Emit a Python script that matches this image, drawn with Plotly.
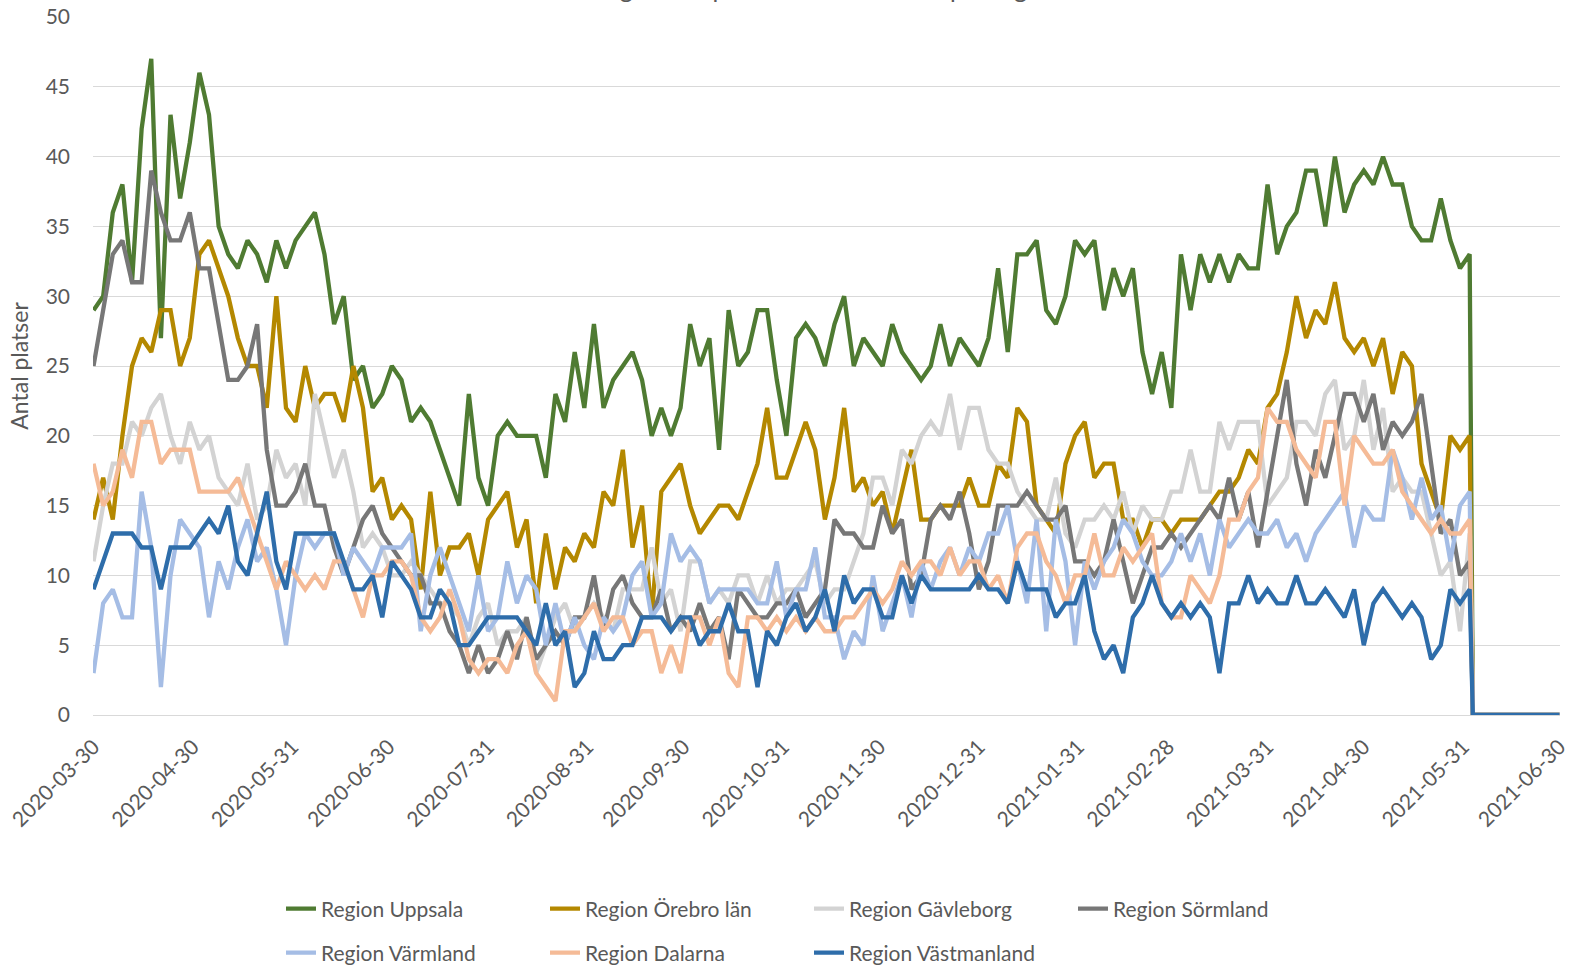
import pandas as pd
import plotly.graph_objects as go

# ---- data (one value every 3 days) ----
START_DATE = "2020-03-30"
STEP = "3D"
N_POINTS = 144
TAIL_DATES = ["2021-06-03", "2021-06-30"]
TAIL_VALUES = [0, 0]

uppsala = [29, 30, 36, 38, 31, 42, 47, 27, 43, 37, 41, 46,
           43, 35, 33, 32, 34, 33, 31, 34, 32, 34, 35, 36,
           33, 28, 30, 24, 25, 22, 23, 25, 24, 21, 22, 21,
           19, 17, 15, 23, 17, 15, 20, 21, 20, 20, 20, 17,
           23, 21, 26, 22, 28, 22, 24, 25, 26, 24, 20, 22,
           20, 22, 28, 25, 27, 19, 29, 25, 26, 29, 29, 24,
           20, 27, 28, 27, 25, 28, 30, 25, 27, 26, 25, 28,
           26, 25, 24, 25, 28, 25, 27, 26, 25, 27, 32, 26,
           33, 33, 34, 29, 28, 30, 34, 33, 34, 29, 32, 30,
           32, 26, 23, 26, 22, 33, 29, 33, 31, 33, 31, 33,
           32, 32, 38, 33, 35, 36, 39, 39, 35, 40, 36, 38,
           39, 38, 40, 38, 38, 35, 34, 34, 37, 34, 32, 33]

orebro = [14, 17, 14, 20, 25, 27, 26, 29, 29, 25, 27, 33,
          34, 32, 30, 27, 25, 25, 22, 30, 22, 21, 25, 22,
          23, 23, 21, 25, 22, 16, 17, 14, 15, 14, 9, 16,
          10, 12, 12, 13, 10, 14, 15, 16, 12, 14, 8, 13,
          9, 12, 11, 13, 12, 16, 15, 19, 12, 15, 7, 16,
          17, 18, 15, 13, 14, 15, 15, 14, 16, 18, 22, 17,
          17, 19, 21, 19, 14, 17, 22, 16, 17, 15, 16, 13,
          16, 19, 14, 14, 15, 15, 15, 17, 15, 15, 18, 17,
          22, 21, 15, 14, 13, 18, 20, 21, 17, 18, 18, 14,
          14, 12, 14, 14, 13, 14, 14, 14, 15, 16, 16, 17,
          19, 18, 22, 23, 26, 30, 27, 29, 28, 31, 27, 26,
          27, 25, 27, 23, 26, 25, 18, 16, 14, 20, 19, 20]

gavleborg = [11, 15, 18, 18, 21, 20, 22, 23, 20, 18, 21, 19,
             20, 17, 16, 15, 18, 14, 15, 19, 17, 18, 15, 23,
             20, 17, 19, 16, 12, 13, 12, 10, 10, 11, 10, 9,
             8, 8, 7, 5, 7, 8, 5, 6, 6, 7, 3, 5,
             7, 8, 6, 7, 8, 7, 6, 9, 9, 9, 12, 8,
             9, 6, 11, 11, 8, 9, 8, 10, 10, 8, 10, 8,
             9, 9, 10, 11, 8, 9, 9, 11, 13, 17, 17, 15,
             19, 18, 20, 21, 20, 23, 19, 22, 22, 19, 18, 18,
             16, 15, 14, 14, 17, 13, 12, 14, 14, 15, 14, 16,
             13, 15, 14, 14, 16, 16, 19, 16, 16, 21, 19, 21,
             21, 21, 15, 16, 17, 21, 21, 20, 23, 24, 19, 20,
             24, 19, 22, 16, 17, 16, 16, 13, 10, 11, 6, 13]

sormland = [25, 29, 33, 34, 31, 31, 39, 36, 34, 34, 36, 32,
            32, 28, 24, 24, 25, 28, 19, 15, 15, 16, 18, 15,
            15, 12, 10, 12, 14, 15, 13, 12, 11, 10, 10, 8,
            8, 6, 5, 3, 5, 3, 4, 6, 4, 7, 4, 5,
            6, 5, 7, 7, 10, 6, 9, 10, 8, 7, 7, 9,
            6, 7, 6, 8, 6, 7, 4, 9, 8, 7, 7, 8,
            8, 9, 7, 8, 9, 14, 13, 13, 12, 12, 15, 13,
            14, 9, 10, 14, 15, 14, 16, 13, 9, 11, 15, 15,
            15, 16, 15, 14, 14, 15, 11, 11, 10, 11, 14, 11,
            8, 10, 12, 12, 13, 12, 13, 14, 15, 14, 17, 14,
            16, 12, 16, 20, 24, 18, 15, 19, 17, 20, 23, 23,
            21, 23, 19, 21, 20, 21, 23, 18, 13, 14, 10, 11]

varmland = [3, 8, 9, 7, 7, 16, 12, 2, 10, 14, 13, 12,
            7, 11, 9, 12, 14, 11, 12, 9, 5, 10, 13, 12,
            13, 13, 10, 12, 11, 10, 12, 12, 12, 13, 6, 10,
            12, 10, 8, 6, 10, 6, 7, 11, 8, 10, 9, 5,
            8, 5, 7, 5, 4, 7, 6, 7, 10, 11, 7, 8,
            13, 11, 12, 11, 8, 9, 9, 9, 9, 8, 8, 11,
            7, 9, 9, 12, 7, 7, 4, 6, 5, 10, 6, 8,
            10, 7, 11, 9, 11, 12, 10, 12, 11, 13, 13, 15,
            11, 8, 14, 6, 14, 11, 5, 11, 9, 11, 12, 14,
            13, 11, 10, 10, 11, 13, 11, 13, 10, 14, 12, 13,
            14, 13, 13, 14, 12, 13, 11, 13, 14, 15, 16, 12,
            15, 14, 14, 19, 17, 14, 17, 14, 15, 11, 15, 16]

dalarna = [18, 15, 16, 19, 17, 21, 21, 18, 19, 19, 19, 16,
           16, 16, 16, 17, 15, 13, 11, 9, 11, 10, 9, 10,
           9, 11, 11, 9, 7, 10, 10, 11, 11, 10, 7, 6,
           7, 9, 7, 4, 3, 4, 4, 3, 5, 6, 3, 2,
           1, 6, 6, 7, 8, 6, 7, 7, 5, 6, 6, 3,
           5, 3, 7, 7, 5, 7, 3, 2, 7, 7, 6, 7,
           6, 7, 6, 7, 6, 6, 7, 7, 8, 9, 8, 9,
           11, 10, 11, 11, 10, 12, 10, 11, 11, 9, 10, 8,
           12, 13, 13, 11, 10, 8, 10, 10, 13, 10, 10, 12,
           11, 12, 13, 8, 7, 7, 10, 9, 8, 10, 14, 14,
           16, 17, 22, 21, 21, 19, 18, 17, 21, 21, 15, 20,
           19, 18, 18, 19, 16, 15, 14, 13, 14, 13, 13, 14]

vastmanland = [9, 11, 13, 13, 13, 12, 12, 9, 12, 12, 12, 13,
               14, 13, 15, 11, 10, 13, 16, 11, 9, 13, 13, 13,
               13, 13, 11, 9, 9, 10, 7, 11, 10, 9, 7, 7,
               9, 8, 5, 5, 6, 7, 7, 7, 7, 6, 5, 8,
               5, 6, 2, 3, 6, 4, 4, 5, 5, 7, 7, 7,
               6, 7, 7, 5, 6, 6, 8, 6, 6, 2, 6, 5,
               7, 8, 6, 7, 9, 6, 10, 8, 9, 9, 7, 7,
               10, 8, 10, 9, 9, 9, 9, 9, 10, 9, 9, 8,
               11, 9, 9, 9, 7, 8, 8, 10, 6, 4, 5, 3,
               7, 8, 10, 8, 7, 8, 7, 8, 7, 3, 8, 8,
               10, 8, 9, 8, 8, 10, 8, 8, 9, 8, 7, 9,
               5, 8, 9, 8, 7, 8, 7, 4, 5, 9, 8, 9]

series_names = ["Region Uppsala", "Region Örebro län", "Region Gävleborg", "Region Sörmland",
                "Region Värmland", "Region Dalarna", "Region Västmanland"]
series_values = [uppsala, orebro, gavleborg, sormland, varmland, dalarna, vastmanland]
series_colors = ["#4F7B32", "#B48800", "#D3D3D3", "#777777", "#A5BDE5", "#F5BB97", "#2E6DAA"]
series_legend = ["legend", "legend", "legend", "legend", "legend2", "legend2", "legend2"]

tick_vals = ["2020-03-30", "2020-04-30", "2020-05-31", "2020-06-30", "2020-07-31", "2020-08-31",
             "2020-09-30", "2020-10-31", "2020-11-30", "2020-12-31", "2021-01-31", "2021-02-28",
             "2021-03-31", "2021-04-30", "2021-05-31", "2021-06-30"]

TITLE = "Antal belagda vårdplatser med covid-19 per region"
Y_TITLE = "Antal platser"

# ---- figure ----
dates = list(pd.date_range(START_DATE, periods=N_POINTS, freq=STEP).strftime("%Y-%m-%d")) + TAIL_DATES

FONT = "Lato, 'Open Sans', sans-serif"
GREY = "#595959"
fig = go.Figure()
for name, vals, col, lg in zip(series_names, series_values, series_colors, series_legend):
    fig.add_trace(go.Scatter(
        x=dates, y=list(vals) + TAIL_VALUES, mode="lines", name=name,
        line=dict(color=col, width=4.3), legend=lg))

W, H = 1570, 967
L, R, T, B = 93, 10, 17, 252
pw, ph = W - L - R, H - T - B

def px_x(x):
    return (x - L) / pw

def px_y(y):
    return (H - B - y) / ph

legend_common = dict(orientation="h", xanchor="left", yanchor="middle",
                     entrywidth=219, entrywidthmode="pixels",
                     font=dict(size=21, color=GREY), bgcolor="rgba(0,0,0,0)")

fig.update_layout(
    width=W, height=H,
    margin=dict(l=L, r=R, t=T, b=B, autoexpand=False),
    paper_bgcolor="white", plot_bgcolor="white",
    font=dict(family=FONT, size=21, color=GREY),
    showlegend=True,
    legend=dict(x=px_x(281), y=px_y(909), **legend_common),
    legend2=dict(x=px_x(281), y=px_y(953), **legend_common),
    xaxis=dict(type="date", range=["2020-03-29 20:00", "2021-06-30 04:00"], tickmode="array",
               tickvals=tick_vals, ticktext=tick_vals, tickangle=-45,
               showgrid=False, showline=True, linecolor="#D9D9D9", linewidth=1.3,
               ticks="", zeroline=False, automargin=False, ticklabelstandoff=10,
               tickfont=dict(size=21, color=GREY)),
    yaxis=dict(range=[0, 50], dtick=5, tick0=0, showgrid=True, gridcolor="#D9D9D9", gridwidth=1.3,
               zeroline=False, ticks="", automargin=False, ticklabelstandoff=22,
               tickfont=dict(size=21, color=GREY),
               title=dict(text=Y_TITLE, standoff=10, font=dict(size=23, color=GREY))),
    annotations=[dict(text=TITLE, xref="paper", yref="paper", x=px_x(785), y=px_y(5),
                      xanchor="center", yanchor="bottom", showarrow=False,
                      font=dict(size=25, color=GREY, family=FONT))],
)

fig.write_html("out.html", config={"displayModeBar": False},
               post_script="document.body.style.margin='0px';")
